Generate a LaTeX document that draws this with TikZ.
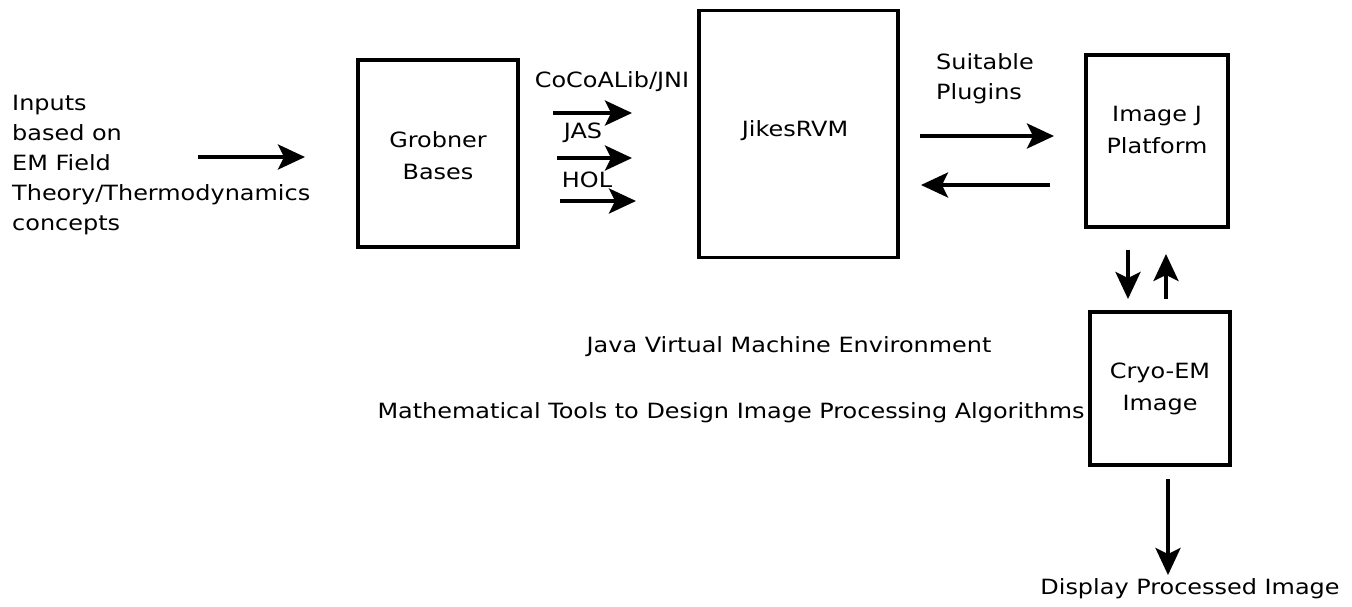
\documentclass[tikz,border=0pt]{standalone}
\usepackage{fontspec}
\setmainfont{DejaVu Sans}[FakeStretch=1.14]
\usetikzlibrary{arrows.meta}
\begin{document}
\begin{tikzpicture}[x=1pt,y=-1pt,
  blk/.style={draw,line width=3.5pt,inner sep=0pt},
  lbl/.style={inner sep=0pt,font=\fontsize{21}{30}\selectfont,align=left},
  ctr/.style={inner sep=0pt,font=\fontsize{21}{32}\selectfont,align=center},
  arr/.style={line width=3.5pt,-{Stealth[length=27pt,width=25pt,inset=6pt]}}]
\useasboundingbox (0,0) rectangle (1352,606);
% boxes
\node[blk,minimum width=160pt,minimum height=187pt] (grob) at (438,153.5) {};
\node[ctr] at (438,156) {Grobner\\Bases};
\node[blk,minimum width=199pt,minimum height=247pt] (jikes) at (798.5,134) {};
\node[ctr] at (795,131) {JikesRVM};
\node[blk,minimum width=142pt,minimum height=172pt] (imgj) at (1157,141) {};
\node[ctr] at (1157,130) {Image J\\Platform};
\node[blk,minimum width=140pt,minimum height=153pt] (cryo) at (1160,388.5) {};
\node[ctr] at (1160,388.5) {Cryo-EM\\Image};
% texts
\node[lbl,anchor=north west] (inp) at (12,95) {Inputs\\based on\\EM Field\\Theory/Thermodynamics\\concepts};
\node[lbl] (coco) at (612,82) {CoCoALib/JNI};
\node[lbl] (jas) at (583,133) {JAS};
\node[lbl] (hol) at (587,180) {HOL};
\node[lbl] (plug) at (985,79) {Suitable\\Plugins};
\node[lbl] (jvm) at (789,347) {Java Virtual Machine Environment};
\node[lbl] (math) at (731,413) {Mathematical Tools to Design Image Processing Algorithms};
\node[lbl] (disp) at (1190,589) {Display Processed Image};
% arrow end coordinates
\coordinate (i1) at (198,157); \coordinate (i2) at (305,157);
\coordinate (c1) at (553,113); \coordinate (c2) at (632,113);
\coordinate (j1) at (557,158); \coordinate (j2) at (632,158);
\coordinate (h1) at (560,201); \coordinate (h2) at (636,201);
\coordinate (p1) at (920,136); \coordinate (p2) at (1054,136);
\coordinate (b1) at (1050,185); \coordinate (b2) at (921,185);
\coordinate (d1) at (1128,250); \coordinate (d2) at (1128,299);
\coordinate (u1) at (1166,299); \coordinate (u2) at (1166,254);
\coordinate (o1) at (1168,479); \coordinate (o2) at (1168,575);
\draw[arr] (i1) -- (i2);
\draw[arr] (c1) -- (c2);
\draw[arr] (j1) -- (j2);
\draw[arr] (h1) -- (h2);
\draw[arr] (p1) -- (p2);
\draw[arr] (b1) -- (b2);
\draw[arr] (d1) -- (d2);
\draw[arr] (u1) -- (u2);
\draw[arr] (o1) -- (o2);
\end{tikzpicture}
\end{document}
